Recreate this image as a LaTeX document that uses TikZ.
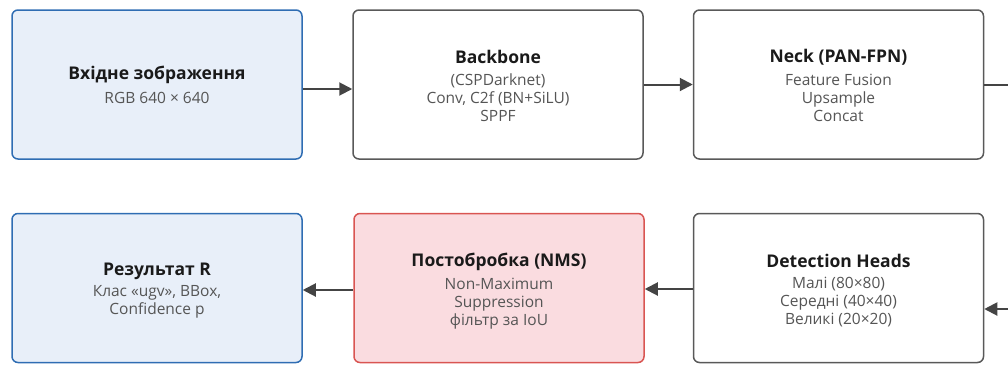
\documentclass[tikz,border=0pt]{standalone}
\usepackage{fontspec}
\setmainfont{Open Sans}
\usetikzlibrary{arrows.meta}
\definecolor{bluefill}{HTML}{E8EFF9}
\definecolor{blueline}{HTML}{2F6DB3}
\definecolor{redfill}{HTML}{FADCE0}
\definecolor{redline}{HTML}{D95552}
\definecolor{greyline}{HTML}{595959}
\definecolor{titlecol}{HTML}{1A1A1A}
\definecolor{subcol}{HTML}{555555}
\definecolor{arrowcol}{HTML}{444444}
\tikzset{
  box/.style={draw=greyline, fill=white, line width=1.5pt, rounded corners=6pt,
    minimum width=290pt, minimum height=149pt, inner sep=0pt},
  bluebox/.style={box, draw=blueline, fill=bluefill},
  redbox/.style={box, draw=redline, fill=redfill},
  ttl/.style={font=\fontsize{17.5}{20}\selectfont\bfseries, text=titlecol, inner sep=0pt},
  sub/.style={font=\fontsize{15.5}{18}\selectfont, text=subcol, align=center, inner sep=0pt},
  conn/.style={draw=arrowcol, line width=2pt},
  arr/.style={conn, -{Triangle[length=13pt,width=13pt]}},
}
\begin{document}
\begin{tikzpicture}[x=1pt,y=-1pt]
\useasboundingbox (0,0) rectangle (1008,365);
% top row
\node[bluebox] (b1) at (157,84.5) {};
\node[box] (b2) at (498,84.5) {};
\node[box] (b3) at (838.5,84.5) {};
% bottom row
\node[bluebox] (b4) at (157,288) {};
\node[redbox] (b5) at (499,288) {};
\node[box] (b6) at (838.5,288) {};
% texts
\node[ttl] (b1t) at (157,75) {Вхідне зображення};
\node[sub] (b1s) at (157,98) {RGB 640 × 640};
\node[ttl] (b2t) at (498,57) {Backbone};
\node[sub] (b2s) at (498,98) {(CSPDarknet)\\Conv, C2f (BN+SiLU)\\SPPF};
\node[ttl] (b3t) at (838.5,57) {Neck (PAN-FPN)};
\node[sub] (b3s) at (838.5,98) {Feature Fusion\\Upsample\\Concat};
\node[ttl] (b4t) at (157,271) {Результат R};
\node[sub] (b4s) at (157,302) {Клас «ugv», BBox,\\Confidence p};
\node[ttl] (b5t) at (499,262) {Постобробка (NMS)};
\node[sub] (b5s) at (499,303.5) {Non-Maximum\\Suppression\\фільтр за IoU};
\node[ttl] (b6t) at (838.5,261) {Detection Heads};
\node[sub] (b6s) at (838.5,302) {Малі (80×80)\\Середні (40×40)\\Великі (20×20)};
% free ends
\coordinate (outR) at (1010,85);
\coordinate (inR) at (1010,309);
% connectors
\draw[arr] (b1.east |- 0,89) -- (b2.west |- 0,89);
\draw[arr] (b2.east |- 0,84.5) -- (b3.west |- 0,84.5);
\draw[conn] (b3.east |- outR) -- (outR);
\draw[arr] (inR) -- (b6.east |- inR);
\draw[arr] (b6.west |- 0,289) -- (b5.east |- 0,289);
\draw[arr] (b5.west |- 0,290) -- (b4.east |- 0,290);
\end{tikzpicture}
\end{document}
